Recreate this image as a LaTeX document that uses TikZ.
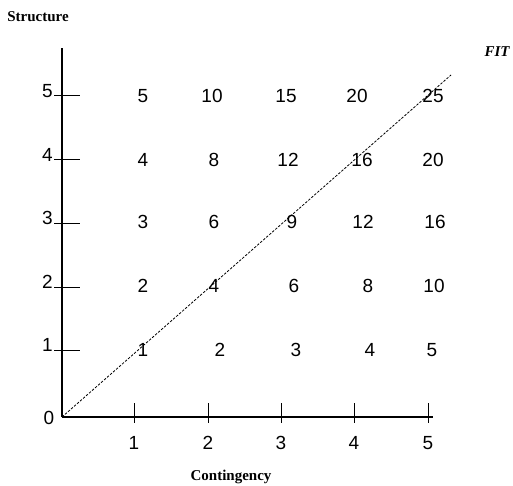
\documentclass[tikz,border=0pt]{standalone}
\usepackage{fontspec}
\setmainfont{Liberation Serif}
\newfontfamily\numfont{Liberation Sans}
\begin{document}
\begin{tikzpicture}[x=1pt,y=1pt,
  num/.style={font=\numfont\fontsize{19}{19}\selectfont, inner sep=0pt},
  axislabel/.style={font=\bfseries\fontsize{15}{15}\selectfont, inner sep=0pt},
  axisline/.style={line width=1.2pt},
  fitline/.style={dashed, dash pattern=on 2.5pt off 1.5pt, line width=0.8pt}]
\useasboundingbox (0,0) rectangle (513,485);
% axes
\coordinate (O) at (62,68);
\coordinate (Ytop) at (62,437);
\coordinate (Xend) at (433,68);
\coordinate (Fend) at (451,410);
\draw[axisline] (O) -- (Ytop);
\draw[axisline] (O) -- (Xend);
% y ticks
\foreach \v/\y in {1/135,2/198,3/262,4/325,5/389}{
  \coordinate (ya\v) at (54,\y);
  \coordinate (yb\v) at (80,\y);
  \draw[line width=1pt] (ya\v) -- (yb\v);
  \node[num, anchor=base east] (yl\v) at (53,\y-1.5) {\v};
}
% x ticks
\foreach \v/\x in {1/134,2/208,3/281,4/354,5/428}{
  \coordinate (xa\v) at (\x,82);
  \coordinate (xb\v) at (\x,62);
  \draw[line width=1pt] (xa\v) -- (xb\v);
  \node[num] (xl\v) at (\x,42) {\v};
}
\node[num] (zero) at (49,67) {0};
% fit line
\draw[fitline] (O) -- (Fend);
% grid values
\foreach \x/\v [count=\i] in {143/5,212/10,286/15,357/20,433/25}{\node[num] (r5c\i) at (\x,389) {\v};}
\foreach \x/\v [count=\i] in {143/4,214/8,288/12,362/16,433/20}{\node[num] (r4c\i) at (\x,325) {\v};}
\foreach \x/\v [count=\i] in {143/3,214/6,292/9,363/12,435/16}{\node[num] (r3c\i) at (\x,263) {\v};}
\foreach \x/\v [count=\i] in {143/2,214/4,294/6,368/8,434/10}{\node[num] (r2c\i) at (\x,199) {\v};}
\foreach \x/\v [count=\i] in {143/1,220/2,296/3,370/4,432/5}{\node[num] (r1c\i) at (\x,135) {\v};}
% labels
\node[axislabel] (struct) at (38,468) {Structure};
\node[axislabel, font=\bfseries\itshape\fontsize{15}{15}\selectfont] (fit) at (497,433) {FIT};
\node[axislabel] (cont) at (231,8) {Contingency};
\end{tikzpicture}
\end{document}
